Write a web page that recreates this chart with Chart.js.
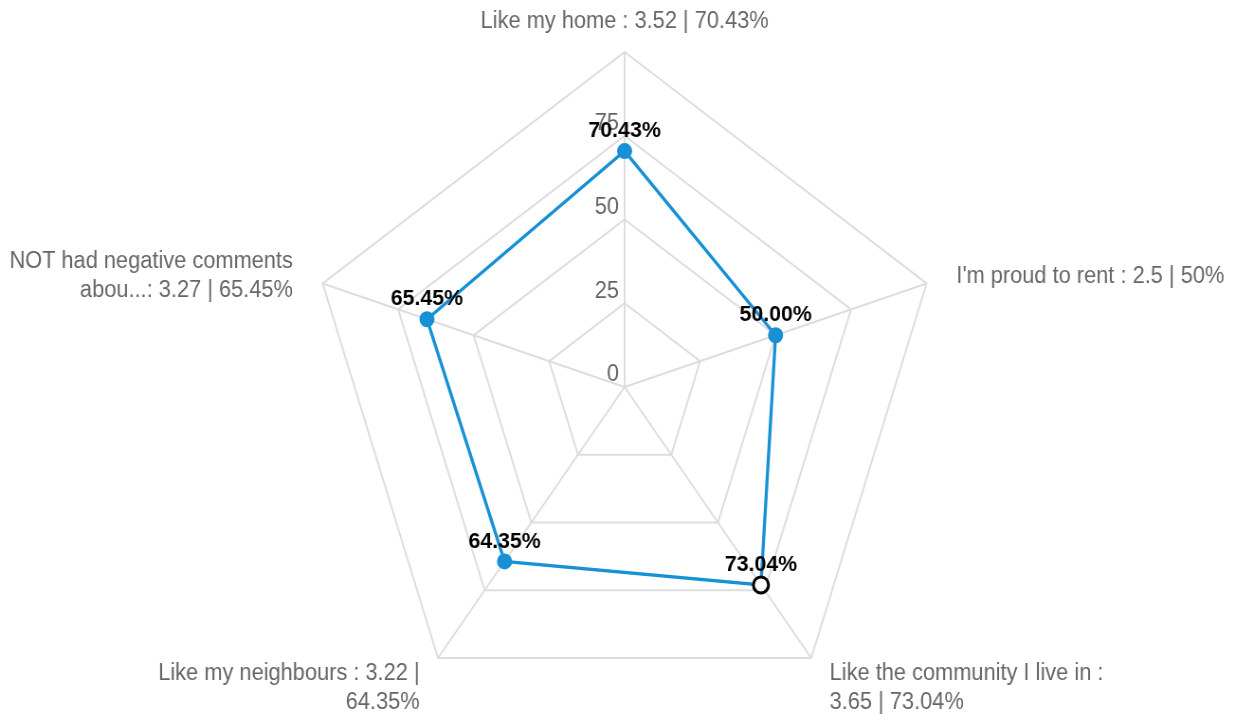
<!DOCTYPE html>
<html>
<head>
<meta charset="utf-8">
<title>Tenant satisfaction radar</title>
<script src="https://cdn.jsdelivr.net/npm/chart.js@4.4.1/dist/chart.umd.min.js"></script>
<style>
  html, body { margin: 0; padding: 0; background: #ffffff; overflow: hidden; }
  #wrap { width: 1235px; height: 722px; overflow: hidden; position: relative; }
  /* the chart is laid out slightly wider and then narrowed horizontally */
  #radar { position: absolute; left: 0; top: 0; transform-origin: 0 0; }
</style>
</head>
<body>
<div id="wrap"><canvas id="radar" width="1303" height="722"></canvas></div>
<script>
// Survey statements (with their own separator) and results
const statements = [
  'Like my home :',
  "I'm proud to rent :",
  'Like the community I live in :',
  'Like my neighbours :',
  'NOT had negative comments abou...:'
];
const meanScores = [3.52, 2.5, 3.65, 3.22, 3.27];
const percentAgree = [70.43, 50, 73.04, 64.35, 65.45];
const tickValues = [0, 25, 50, 75, 100];
const highlightedIndex = 2;

const CANVAS_W = 1303;
const VIEW_W = 1235;
document.getElementById('radar').style.transform = `scaleX(${VIEW_W / CANVAS_W})`;

const LINE_BLUE = '#1790d5';
const GREY_TEXT = '#666666';
const GRID_GREY = '#dddddd';
const FONT = "'Liberation Sans', Arial, Helvetica, sans-serif";
const LABEL_SIZE = 23;
const LABEL_LINE = 29;

// Greedy word wrap of a label to a fixed character budget
function wrapWords(text, maxChars) {
  const words = text.split(' ');
  const lines = [];
  let cur = '';
  for (const w of words) {
    const next = cur ? cur + ' ' + w : w;
    if (next.length > maxChars && cur) { lines.push(cur); cur = w; }
    else cur = next;
  }
  if (cur) lines.push(cur);
  return lines;
}

const pointLabels = statements.map((s, i) =>
  wrapWords(`${s} ${meanScores[i]} | ${percentAgree[i]}%`, 30));

// Radial tick numbers, right-aligned just left of the vertical axis
const tickLabelPlugin = {
  id: 'tickLabels',
  afterDatasetsDraw(chart) {
    const scale = chart.scales.r;
    const ctx = chart.ctx;
    ctx.save();
    ctx.font = `${LABEL_SIZE}px ${FONT}`;
    ctx.fillStyle = GREY_TEXT;
    ctx.textAlign = 'right';
    ctx.textBaseline = 'middle';
    tickValues.forEach(v => {
      if (v >= scale.max) return;
      const d = scale.getDistanceFromCenterForValue(v);
      ctx.fillText(String(v), scale.xCenter - 6, scale.yCenter - d - 12);
    });
    ctx.restore();
  }
};

// Category labels around the outside, block centred on its anchor
const pointLabelPlugin = {
  id: 'outerLabels',
  afterDatasetsDraw(chart) {
    const scale = chart.scales.r;
    const ctx = chart.ctx;
    ctx.save();
    ctx.font = `${LABEL_SIZE}px ${FONT}`;
    ctx.fillStyle = GREY_TEXT;
    ctx.textBaseline = 'middle';
    chart.data.labels.forEach((lines, i) => {
      const p = scale.getPointPosition(i, scale.drawingArea + 33);
      const dx = p.x - scale.xCenter;
      ctx.textAlign = Math.abs(dx) < 2 ? 'center' : (dx > 0 ? 'left' : 'right');
      const arr = Array.isArray(lines) ? lines : [lines];
      let y = p.y - (arr.length - 1) * LABEL_LINE / 2 + 3;
      arr.forEach(line => { ctx.fillText(line, p.x, y); y += LABEL_LINE; });
    });
    ctx.restore();
  }
};

// Percentage value above each point
const valueLabelPlugin = {
  id: 'valueLabels',
  afterDatasetsDraw(chart) {
    const ctx = chart.ctx;
    const meta = chart.getDatasetMeta(0);
    ctx.save();
    ctx.font = `bold 22.5px ${FONT}`;
    ctx.fillStyle = '#000000';
    ctx.textAlign = 'center';
    ctx.textBaseline = 'middle';
    meta.data.forEach((pt, i) => {
      const v = chart.data.datasets[0].data[i];
      ctx.fillText(v.toFixed(2) + '%', pt.x, pt.y - 20);
    });
    ctx.restore();
  }
};

new Chart(document.getElementById('radar'), {
  type: 'radar',
  data: {
    labels: pointLabels,
    datasets: [{
      data: percentAgree,
      borderColor: LINE_BLUE,
      backgroundColor: 'transparent',
      borderWidth: 3.3,
      fill: false,
      tension: 0,
      pointRadius: ctx => ctx.dataIndex === highlightedIndex ? 8 : 7,
      pointBorderWidth: ctx => ctx.dataIndex === highlightedIndex ? 3 : 2,
      pointBackgroundColor: ctx => ctx.dataIndex === highlightedIndex ? '#ffffff' : LINE_BLUE,
      pointBorderColor: ctx => ctx.dataIndex === highlightedIndex ? '#000000' : LINE_BLUE
    }]
  },
  options: {
    responsive: false,
    animation: false,
    devicePixelRatio: 1,
    layout: { padding: { top: 52, bottom: 0, left: 15, right: 0 } },
    plugins: {
      legend: { display: false },
      tooltip: { enabled: false }
    },
    scales: {
      r: {
        min: 0,
        max: 100,
        beginAtZero: true,
        angleLines: { color: GRID_GREY, lineWidth: 2 },
        grid: { color: GRID_GREY, lineWidth: 2 },
        ticks: { stepSize: 25, display: false },
        pointLabels: { display: false }
      }
    }
  },
  plugins: [tickLabelPlugin, pointLabelPlugin, valueLabelPlugin]
});
</script>
</body>
</html>
